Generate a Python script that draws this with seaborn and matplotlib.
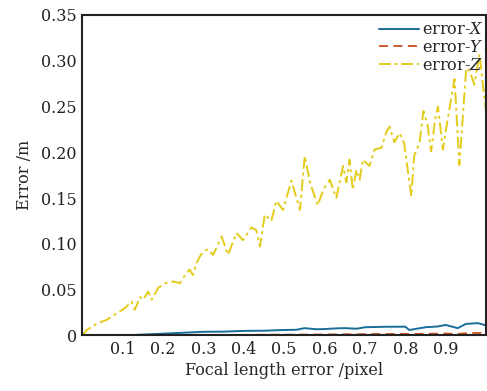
import numpy as np
import pandas as pd
import matplotlib
matplotlib.use("Agg")
import matplotlib.pyplot as plt
import seaborn as sns

# ---- data ----
x_z = [0.0, 0.011, 0.036, 0.06, 0.085, 0.106, 0.122, 0.13, 0.143, 0.151, 0.163, 0.172,
       0.188, 0.205, 0.225, 0.242, 0.25, 0.258, 0.266, 0.274, 0.283, 0.291, 0.30, 0.311,
       0.324, 0.345, 0.361, 0.382, 0.398, 0.419, 0.431, 0.44, 0.452, 0.468, 0.481, 0.497,
       0.518, 0.539, 0.551, 0.564, 0.583, 0.598, 0.613, 0.629, 0.646, 0.654, 0.662, 0.670,
       0.679, 0.687, 0.695, 0.711, 0.724, 0.741, 0.753, 0.761, 0.773, 0.786, 0.797, 0.815,
       0.822, 0.835, 0.845, 0.855, 0.864, 0.874, 0.881, 0.893, 0.905, 0.922, 0.934, 0.951,
       0.959, 0.971, 0.984, 0.992, 1.0]
err_z = [0.0, 0.006, 0.013, 0.017, 0.024, 0.030, 0.037, 0.028, 0.042, 0.039, 0.048, 0.039,
         0.052, 0.057, 0.059, 0.057, 0.063, 0.068, 0.072, 0.066, 0.079, 0.086, 0.092, 0.094,
         0.088, 0.108, 0.088, 0.112, 0.104, 0.118, 0.115, 0.097, 0.132, 0.125, 0.147, 0.137,
         0.169, 0.137, 0.196, 0.167, 0.142, 0.160, 0.170, 0.150, 0.185, 0.167, 0.192, 0.159,
         0.181, 0.170, 0.192, 0.185, 0.203, 0.205, 0.222, 0.228, 0.211, 0.221, 0.210, 0.152,
         0.196, 0.210, 0.245, 0.230, 0.201, 0.236, 0.250, 0.203, 0.236, 0.280, 0.186, 0.292,
         0.289, 0.274, 0.307, 0.274, 0.245]

x_xy = [0.0, 0.1, 0.2, 0.3, 0.35, 0.4, 0.45, 0.5, 0.53, 0.55, 0.58, 0.6, 0.63, 0.65, 0.68,
        0.7, 0.75, 0.8, 0.81, 0.85, 0.88, 0.9, 0.93, 0.95, 0.98, 1.0]
err_x = [0.0, 0.0, 0.002, 0.004, 0.0042, 0.005, 0.0052, 0.006, 0.0062, 0.008, 0.0068, 0.007,
         0.0078, 0.008, 0.0074, 0.009, 0.0095, 0.0096, 0.006, 0.009, 0.0098, 0.0115, 0.008,
         0.0126, 0.0135, 0.011]
err_y = [0.0, 0.0, 0.0003, 0.0005, 0.0006, 0.0007, 0.0008, 0.0009, 0.0009, 0.001, 0.001,
         0.0011, 0.0012, 0.0013, 0.0013, 0.0015, 0.0016, 0.0017, 0.0015, 0.0019, 0.002,
         0.0021, 0.0018, 0.0024, 0.0028, 0.0025]

x_ticks = [0.1, 0.2, 0.3, 0.4, 0.5, 0.6, 0.7, 0.8, 0.9]
y_ticks = [0, 0.05, 0.10, 0.15, 0.20, 0.25, 0.30, 0.35]
y_tick_labels = ["0", "0.05", "0.10", "0.15", "0.20", "0.25", "0.30", "0.35"]

df_xy = pd.DataFrame({"f": x_xy, "X": err_x, "Y": err_y})
df_z = pd.DataFrame({"f": x_z, "Z": err_z})

sns.set_theme(style="white")
plt.rcParams["font.family"] = ["DejaVu Serif"]
plt.rcParams["mathtext.fontset"] = "dejavuserif"

fig = plt.figure(figsize=(4.87, 3.91), dpi=100)
ax = fig.add_axes([0.169, 0.142, 0.829, 0.820])

sns.lineplot(data=df_xy, x="f", y="X", ax=ax, color="#1a6e9a", lw=1.4,
             label="error-$\\mathit{X}$")
sns.lineplot(data=df_xy, x="f", y="Y", ax=ax, color="#c8501e", lw=1.3,
             linestyle=(0, (5, 3)), label="error-$\\mathit{Y}$")
sns.lineplot(data=df_z, x="f", y="Z", ax=ax, color="#e3cc1c", lw=1.4,
             linestyle=(0, (6, 2, 1.5, 2)), label="error-$\\mathit{Z}$")

ax.set_xlim(0, 1.0)
ax.set_ylim(0, 0.35)
ax.set_xticks(x_ticks)
ax.set_xticklabels([f"{v:.1f}" for v in x_ticks])
ax.set_yticks(y_ticks)
ax.set_yticklabels(y_tick_labels)
ax.tick_params(direction="in", length=5, width=1.3, labelsize=11.5, colors="#222222",
               pad=4)
for s in ax.spines.values():
    s.set_linewidth(1.5)
    s.set_color("#222222")

ax.set_xlabel("Focal length error /pixel", fontsize=11.5, labelpad=3)
ax.set_ylabel("Error /m", fontsize=11.5, labelpad=6)

leg = ax.legend(loc="upper right", frameon=False, fontsize=11.5, handlelength=2.5,
                handletextpad=0.2, labelspacing=0.05, borderaxespad=0.0,
                bbox_to_anchor=(1.01, 1.0))

fig.savefig("out.png", dpi=100)
